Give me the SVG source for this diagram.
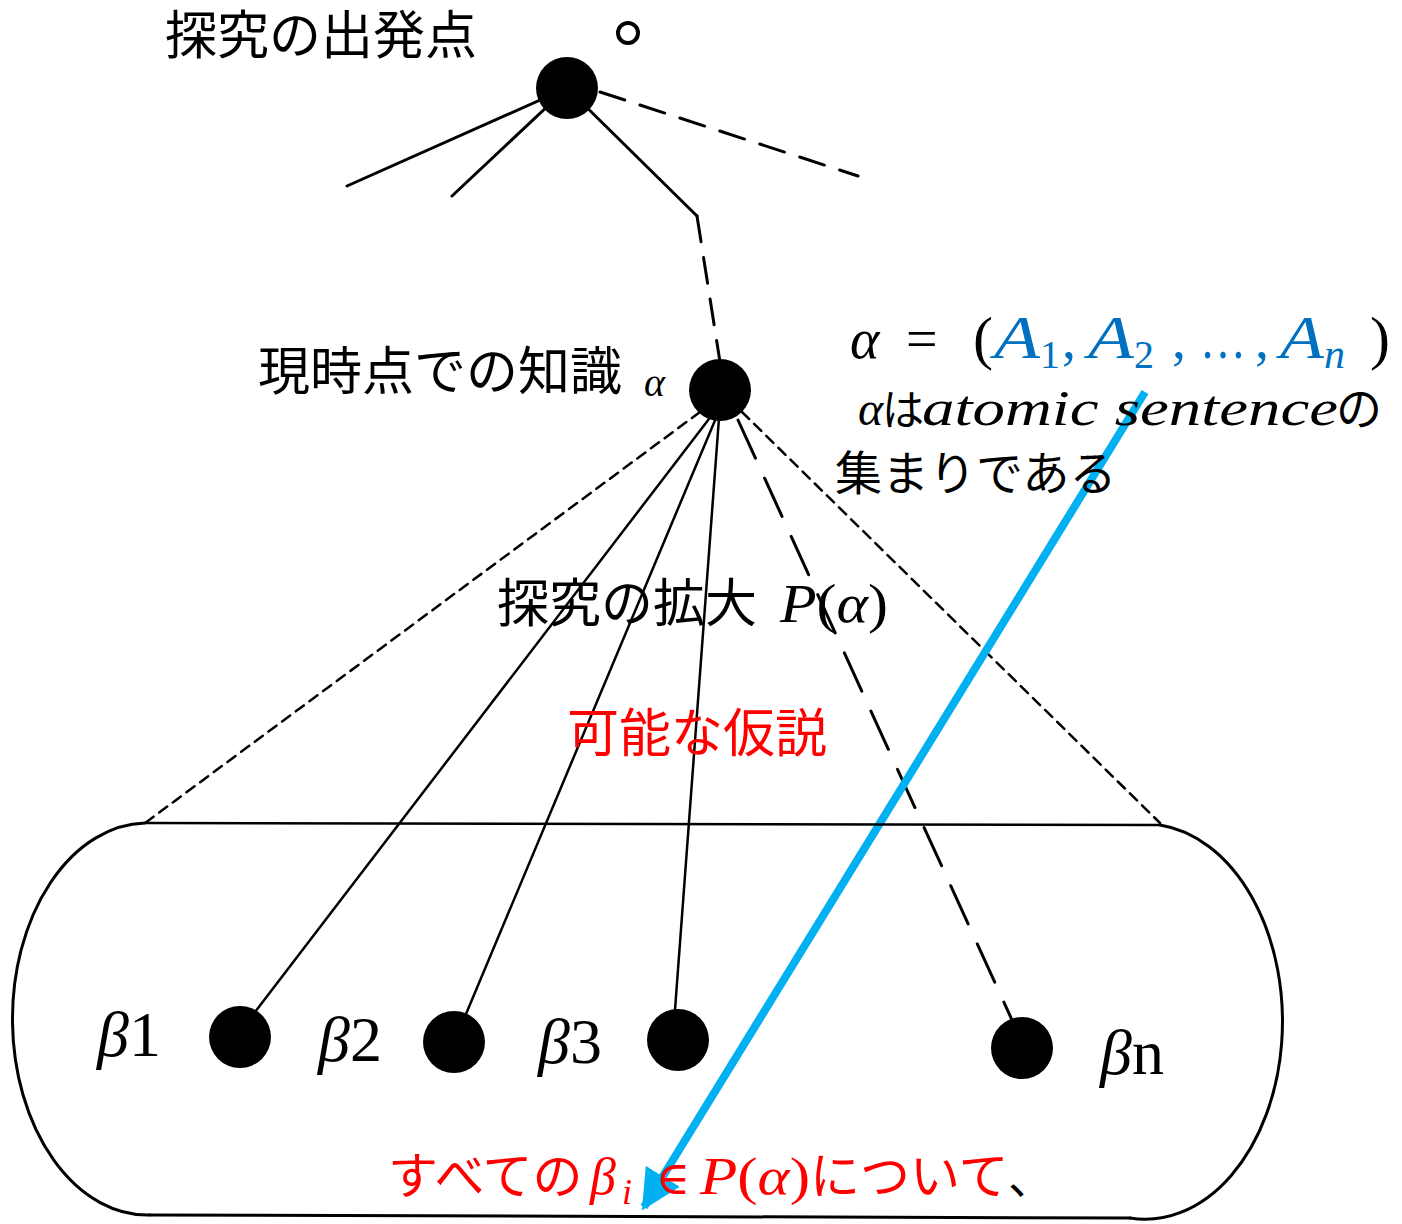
<svg xmlns="http://www.w3.org/2000/svg" width="1402" height="1224" viewBox="0 0 1402 1224">
<defs>
<style>
.jp{font-family:"Noto Sans CJK JP","Noto Sans",sans-serif;fill:#000}
.m{font-family:"Liberation Serif","DejaVu Serif",serif;font-style:italic;fill:#000}
.up{font-family:"Liberation Serif","DejaVu Serif",serif;font-style:normal;fill:#000}
.blue{fill:#0070C0}
.red{fill:#FF0000}
.ln{stroke:#000;stroke-width:3;fill:none;stroke-linecap:round}
.d1{stroke-dasharray:26 16}
.d2{stroke-dasharray:10 7}
.d3{stroke-dasharray:42 22}
.dot{fill:#000}
</style>
<marker id="ah" viewBox="0 0 10 10" refX="9" refY="5" markerWidth="5" markerHeight="5" orient="auto" markerUnits="strokeWidth">
<path d="M0,0 L10,5 L0,10 z" fill="#00B0F0"/>
</marker>
</defs>
<rect width="1402" height="1224" fill="#fff"/>

<g id="connectors">
<line class="ln" x1="567" y1="88" x2="347" y2="186"/>
<line class="ln" x1="567" y1="88" x2="452" y2="196"/>
<polyline class="ln" points="567,88 697,216"/>
<line class="ln d1" x1="697" y1="216" x2="720" y2="362"/>
<line class="ln d1" x1="600" y1="92" x2="858" y2="176"/>
<line class="ln d2" x1="700" y1="412" x2="145" y2="823" style="stroke-width:2.5"/>
<line class="ln" x1="712" y1="415" x2="255" y2="1012" style="stroke-width:2.5"/>
<line class="ln" x1="716" y1="418" x2="466" y2="1014" style="stroke-width:2.5"/>
<line class="ln" x1="719" y1="418" x2="675" y2="1010" style="stroke-width:2.5"/>
<line class="ln d3" x1="738" y1="420" x2="1012" y2="1020"/>
<line class="ln d2" x1="742" y1="412" x2="1160" y2="823" style="stroke-width:2.5"/>
<line x1="1145" y1="392" x2="644" y2="1207" stroke="#00B0F0" stroke-width="8" marker-end="url(#ah)"/>
</g>

<g id="set">
<line class="ln" x1="145" y1="823" x2="1160" y2="825" style="stroke-width:2.5"/>
<line class="ln" x1="150" y1="1215" x2="1130" y2="1218" style="stroke-width:3"/>
<path class="ln" d="M145,823 A135,196 0 0 0 150,1215"/>
<path class="ln" d="M1160,825 A137,197 0 0 1 1130,1218"/>
</g>

<g id="root">
<circle class="dot" cx="567" cy="88" r="31"/>
<text class="jp" x="165" y="54" font-size="52">探究の出発点</text>
<circle cx="628" cy="33" r="10" fill="none" stroke="#000" stroke-width="4"/>
</g>

<g id="alpha">
<circle class="dot" cx="720" cy="390" r="31"/>
<text class="jp" x="258" y="390" font-size="52">現時点での知識</text>
<text class="m" x="644" y="396" font-size="40">α</text>
</g>

<g id="expansion">
<text class="jp" x="497" y="622" font-size="52">探究の拡大</text>
<text class="m" x="780" y="622" font-size="54" textLength="108" lengthAdjust="spacingAndGlyphs">P<tspan class="up">(</tspan>α<tspan class="up">)</tspan></text>
<text class="jp red" x="567" y="752" font-size="52">可能な仮説</text>
</g>

<g id="formula">
<text class="m" x="850" y="358" font-size="56">α</text>
<text class="up" x="906" y="358" font-size="56">=</text>
<text class="up" x="973" y="358" font-size="60">(</text>
<text class="m blue" x="994" y="358" font-size="62" textLength="46" lengthAdjust="spacingAndGlyphs">A</text>
<text class="up blue" x="1040" y="368" font-size="40">1</text>
<text class="up blue" x="1062" y="358" font-size="56">,</text>
<text class="m blue" x="1088" y="358" font-size="62" textLength="46" lengthAdjust="spacingAndGlyphs">A</text>
<text class="up blue" x="1134" y="368" font-size="40">2</text>
<text class="up blue" x="1172" y="358" font-size="56">,</text>
<text class="up blue" x="1200" y="358" font-size="56" textLength="46" lengthAdjust="spacingAndGlyphs">…</text>
<text class="up blue" x="1255" y="358" font-size="56">,</text>
<text class="m blue" x="1280" y="358" font-size="62" textLength="44" lengthAdjust="spacingAndGlyphs">A</text>
<text class="m blue" x="1324" y="368" font-size="42">n</text>
<text class="up" x="1370" y="358" font-size="60">)</text>
<text class="m" x="858" y="425" font-size="48">α</text>
<text class="jp" x="882" y="425" font-size="42">は</text>
<text class="m" x="922" y="425" font-size="50" textLength="416" lengthAdjust="spacingAndGlyphs">atomic sentence</text>
<text class="jp" x="1336" y="425" font-size="46">の</text>
<text class="jp" x="835" y="490" font-size="47">集まりである</text>
</g>

<g id="b1">
<circle class="dot" cx="240" cy="1037" r="31"/>
<text class="m" x="97" y="1056" font-size="64">β<tspan class="up">1</tspan></text>
</g>
<g id="b2">
<circle class="dot" cx="454" cy="1042" r="31"/>
<text class="m" x="318" y="1061" font-size="64">β<tspan class="up">2</tspan></text>
</g>
<g id="b3">
<circle class="dot" cx="678" cy="1040" r="31"/>
<text class="m" x="538" y="1063" font-size="64">β<tspan class="up">3</tspan></text>
</g>
<g id="bn">
<circle class="dot" cx="1022" cy="1048" r="31"/>
<text class="m" x="1100" y="1074" font-size="64">β<tspan class="up">n</tspan></text>
</g>

<g id="bottom">
<text class="jp red" x="388" y="1194" font-size="50">すべての</text>
<text class="m red" x="590" y="1194" font-size="52">β</text>
<text class="m red" x="622" y="1204" font-size="36">i</text>
<text class="up red" x="656" y="1194" font-size="46">∈</text>
<text class="m red" x="700" y="1194" font-size="52" textLength="110" lengthAdjust="spacingAndGlyphs">P<tspan class="up red">(</tspan>α<tspan class="up red">)</tspan></text>
<text class="jp red" x="810" y="1194" font-size="50">について</text>
<text class="jp" x="1008" y="1194" font-size="46">、</text>
</g>
</svg>
